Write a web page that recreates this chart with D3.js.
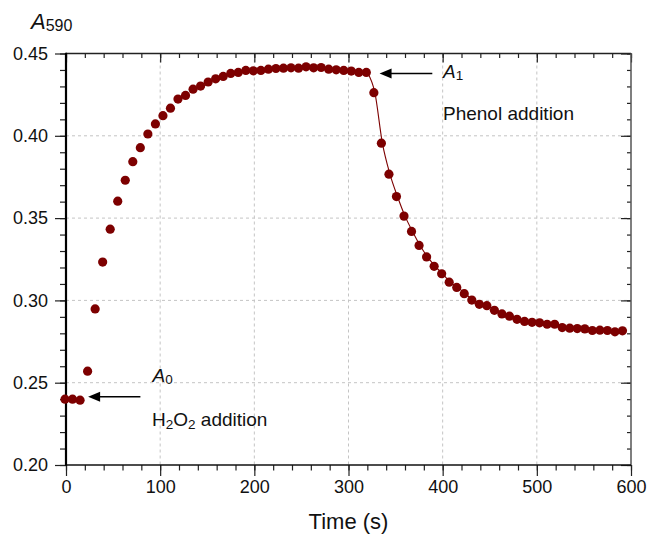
<!DOCTYPE html>
<html>
<head>
<meta charset="utf-8">
<script src="https://cdn.jsdelivr.net/npm/d3@7"></script>
<style>
  body { margin: 0; background: #fff; }
  svg text { font-family: "Liberation Sans", Arial, Helvetica, sans-serif; fill: #111; }
</style>
</head>
<body>
<div id="chart"></div>
<script>
// time (s) and absorbance at 590 nm
const times = [0, 8, 16, 24, 32, 40, 48, 56, 64, 72, 80, 88, 96, 104, 112, 120, 128, 136, 144, 152,
    160, 168, 176, 184, 192, 200, 208, 216, 224, 232, 240, 248, 256, 264, 272, 280, 288, 296, 304, 312,
    320, 328, 336, 344, 352, 360, 368, 376, 384, 392, 400, 408, 416, 424, 432, 440, 448, 456, 464, 472,
    480, 488, 496, 504, 512, 520, 528, 536, 544, 552, 560, 568, 576, 584, 592];
const absorbance = [0.240, 0.240, 0.2394, 0.257, 0.2948, 0.3233, 0.3433, 0.3603, 0.373, 0.3843,
    0.3928, 0.4011, 0.4072, 0.4122, 0.4168, 0.4223, 0.4245, 0.4283, 0.4302, 0.4327,
    0.4346, 0.4361, 0.4379, 0.4385, 0.4397, 0.4395, 0.4397, 0.4405, 0.4409, 0.4411,
    0.4413, 0.4411, 0.4419, 0.4413, 0.4415, 0.4405, 0.4401, 0.4397, 0.4393, 0.4385,
    0.4385, 0.4262, 0.3955, 0.3767, 0.3631, 0.3512, 0.3419, 0.3334, 0.3264, 0.3207,
    0.3162, 0.3111, 0.3079, 0.3041, 0.3002, 0.2976, 0.2968, 0.294, 0.2918, 0.2904,
    0.2885, 0.2872, 0.2867, 0.2864, 0.2855, 0.2855, 0.2835, 0.2831, 0.2829, 0.2827,
    0.2817, 0.2819, 0.2817, 0.2809, 0.2815];
const phenolTime = 320; // line drawn from phenol addition on

const xTicks = [0, 100, 200, 300, 400, 500, 600];
const yTicks = [0.20, 0.25, 0.30, 0.35, 0.40, 0.45];

const width = 648, height = 534;
const color = "#7d0000";

const svg = d3.select("#chart").append("svg")
    .attr("width", width)
    .attr("height", height)
    .style("display", "block");

const x = d3.scaleLinear().domain([0, 600]).range([66, 631]);
const y = d3.scaleLinear().domain([0.20, 0.45]).range([465, 53.5]);

const data = times.map((t, i) => ({t: t, a: absorbance[i]}));

// grid
svg.append("g")
    .selectAll("line")
    .data(xTicks.slice(1, -1))
    .enter().append("line")
    .attr("x1", d => x(d)).attr("x2", d => x(d))
    .attr("y1", y(0.45)).attr("y2", y(0.20))
    .style("stroke", "#c4c4c4")
    .style("stroke-dasharray", "3,3");

svg.append("g")
    .selectAll("line")
    .data(yTicks.slice(1, -1))
    .enter().append("line")
    .attr("x1", x(0)).attr("x2", x(600))
    .attr("y1", d => y(d)).attr("y2", d => y(d))
    .style("stroke", "#c4c4c4")
    .style("stroke-dasharray", "3,3");

// axes
const xMinor = d3.range(0, 601, 20);
const yMinor = d3.range(20, 46, 1).map(d => d / 100);

const bottomAxis = svg.append("g").attr("transform", `translate(0,${y(0.20)})`);
bottomAxis.call(d3.axisBottom(x).tickValues(xMinor).tickSize(5.5).tickFormat(""));
bottomAxis.append("g").call(d3.axisBottom(x).tickValues(xTicks).tickSize(11).tickPadding(4));

const leftAxis = svg.append("g").attr("transform", `translate(${x(0)},0)`);
leftAxis.call(d3.axisLeft(y).tickValues(yMinor).tickSize(6).tickFormat(""));
leftAxis.append("g").call(d3.axisLeft(y).tickValues(yTicks).tickSize(11).tickPadding(7).tickFormat(d3.format(".2f")));

const topAxis = svg.append("g").attr("transform", `translate(0,${y(0.45)})`);
topAxis.call(d3.axisTop(x).tickValues(xMinor).tickSize(-4.5).tickFormat(""));
topAxis.append("g").call(d3.axisTop(x).tickValues(xTicks).tickSize(-9).tickFormat(""));

const rightAxis = svg.append("g").attr("transform", `translate(${x(600)},0)`);
rightAxis.call(d3.axisRight(y).tickValues(yMinor).tickSize(-4).tickFormat(""));
rightAxis.append("g").call(d3.axisRight(y).tickValues(yTicks).tickSize(-10).tickFormat(""));

svg.selectAll(".domain").remove();
svg.selectAll(".tick line").style("stroke", "#222").style("stroke-width", 1.2);
svg.selectAll(".tick text").style("font-size", "18px").style("fill", "#111");

// frame
svg.append("line").attr("x1", x(0)).attr("x2", x(600)).attr("y1", y(0.45)).attr("y2", y(0.45))
    .style("stroke", "#222").style("stroke-width", 1.3);
svg.append("line").attr("x1", x(600)).attr("x2", x(600)).attr("y1", y(0.45)).attr("y2", y(0.20))
    .style("stroke", "#555").style("stroke-width", 1.5);
svg.append("line").attr("x1", x(0)).attr("x2", x(600)).attr("y1", y(0.20)).attr("y2", y(0.20))
    .style("stroke", "#111").style("stroke-width", 1.5);
svg.append("line").attr("x1", x(0)).attr("x2", x(0)).attr("y1", y(0.45) - 0.7).attr("y2", y(0.20) + 0.7)
    .style("stroke", "#000").style("stroke-width", 2.2);

// line after phenol addition
svg.append("path")
    .datum(data.filter(d => d.t >= phenolTime))
    .attr("d", d3.line().x(d => x(d.t)).y(d => y(d.a)).curve(d3.curveMonotoneX))
    .style("fill", "none")
    .style("stroke", color)
    .style("stroke-width", 1.1);

// points
svg.append("g")
    .selectAll("circle")
    .data(data)
    .enter().append("circle")
    .attr("cx", d => x(d.t) - 1)
    .attr("cy", d => y(d.a))
    .attr("r", 4.6)
    .style("fill", color);

// arrows
const arrows = [
    {from: 79, to: 23.5, a: 0.2415},
    {from: 389, to: 333, a: 0.4378}
];
svg.append("g")
    .selectAll("line")
    .data(arrows)
    .enter().append("line")
    .attr("x1", d => x(d.from)).attr("x2", d => x(d.to) + 11)
    .attr("y1", d => y(d.a)).attr("y2", d => y(d.a))
    .style("stroke", "#000").style("stroke-width", 1.5);
svg.append("g")
    .selectAll("path")
    .data(arrows)
    .enter().append("path")
    .attr("d", d => `M${x(d.to)},${y(d.a)} l12,-5 l0,10 Z`)
    .style("fill", "#000");

// annotations
const a0 = svg.append("text").attr("x", 152.5).attr("y", 381.5).style("font-size", "19px");
a0.append("tspan").style("font-style", "italic").text("A");
a0.append("tspan").attr("dy", 2).style("font-size", "13.5px").text("0");

const h2o2 = svg.append("text").attr("x", 152).attr("y", 425.5).style("font-size", "19px");
h2o2.append("tspan").text("H");
h2o2.append("tspan").attr("dy", 3).style("font-size", "13.5px").text("2");
h2o2.append("tspan").attr("dy", -3).text("O");
h2o2.append("tspan").attr("dy", 3).style("font-size", "13.5px").text("2");
h2o2.append("tspan").attr("dy", -3).text(" addition");

const a1 = svg.append("text").attr("x", 443).attr("y", 77.5).style("font-size", "19px");
a1.append("tspan").style("font-style", "italic").text("A");
a1.append("tspan").attr("dy", 2).style("font-size", "13.5px").text("1");

svg.append("text").attr("x", 443).attr("y", 120).style("font-size", "19px").text("Phenol addition");

// axis titles
svg.append("text")
    .attr("x", (x(0) + x(600)) / 2)
    .attr("y", 528.5)
    .attr("text-anchor", "middle")
    .style("font-size", "22px")
    .text("Time (s)");

const yl = svg.append("text").attr("x", 31).attr("y", 28.5).style("font-size", "22px");
yl.append("tspan").style("font-style", "italic").text("A");
yl.append("tspan").attr("dy", 2).style("font-size", "16px").text("590");
</script>
</body>
</html>
